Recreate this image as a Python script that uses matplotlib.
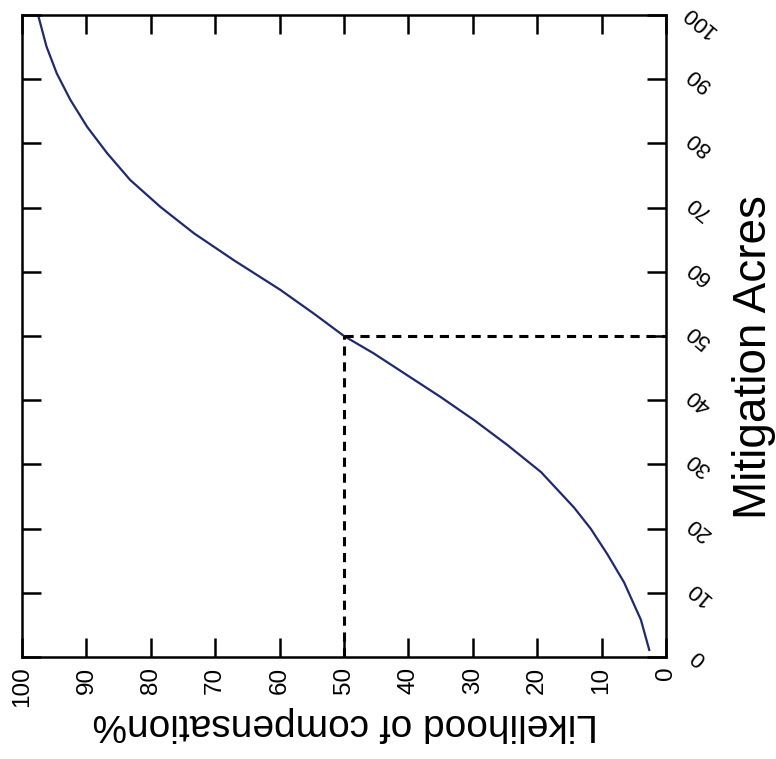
import matplotlib
matplotlib.use("Agg")
import matplotlib.pyplot as plt
import matplotlib.transforms as mtransforms

plt.rcParams['font.family'] = ['Liberation Sans', 'DejaVu Sans']

# values (likelihood %, mitigation acres)
likelihood = [2.6, 3.9, 6.5, 9.1, 11.7, 14.3, 19.4, 24.6, 29.8, 35.0, 40.2, 45.4,
              50.0, 54.7, 59.9, 67.1, 73.3, 78.5, 83.2, 86.8, 89.9, 92.5, 94.6,
              96.2, 97.5]
acres = [1.1, 5.8, 11.6, 16.0, 20.0, 23.3, 28.8, 33.0, 36.9, 40.5, 43.9, 47.3,
         50.0, 53.5, 57.2, 61.8, 66.0, 70.1, 74.3, 78.5, 82.6, 86.8, 90.9,
         95.1, 100.0]
ticks = [0, 10, 20, 30, 40, 50, 60, 70, 80, 90, 100]
mark_lik = 50
mark_acres = 50

fig = plt.figure(figsize=(7.76, 7.59), dpi=100)
ax = fig.add_axes([22/776, 102/759, 644/776, 642/759])

ax.plot(likelihood, acres, color='#1f2a6e', lw=1.6, solid_joinstyle='round')
ax.plot([mark_lik, mark_lik], [0, mark_acres], color='black', lw=2.2, ls=(0, (3, 2.2)))
ax.plot([mark_lik, 0], [mark_acres, mark_acres], color='black', lw=2.2, ls=(0, (3, 2.2)))

ax.set_xlim(100, 0)
ax.set_ylim(0, 100)
ax.set_xticks(ticks)
ax.set_yticks(ticks)

for s in ax.spines.values():
    s.set_linewidth(1.8)

ax.tick_params(axis='both', direction='in', length=14, width=1.8,
               top=True, bottom=True, left=True, right=True)
ax.tick_params(axis='x', labelbottom=True, labeltop=False, labelsize=17.5, pad=7)
ax.tick_params(axis='y', labelleft=False, labelright=True, labelsize=16, pad=24)

for lab in ax.get_xticklabels():
    lab.set_rotation(90)
ylabs = ax.get_yticklabels()
for lab in ylabs:
    lab.set_rotation(140)
    lab.set_horizontalalignment('center')
    lab.set_verticalalignment('center')
# top label sits right at the figure edge, nudge it down a little
ylabs[-1].set_transform(ylabs[-1].get_transform() +
                        mtransforms.ScaledTranslation(0, -6/100, fig.dpi_scale_trans))

fig.text(345/776, 1 - 724/759, 'Likelihood of compensation%', rotation=180,
         ha='center', va='center', fontsize=28)
fig.text(754/776, 1 - 357/759, 'Mitigation Acres', rotation=90,
         ha='center', va='center', fontsize=33)

fig.savefig('out.png', dpi=100)
